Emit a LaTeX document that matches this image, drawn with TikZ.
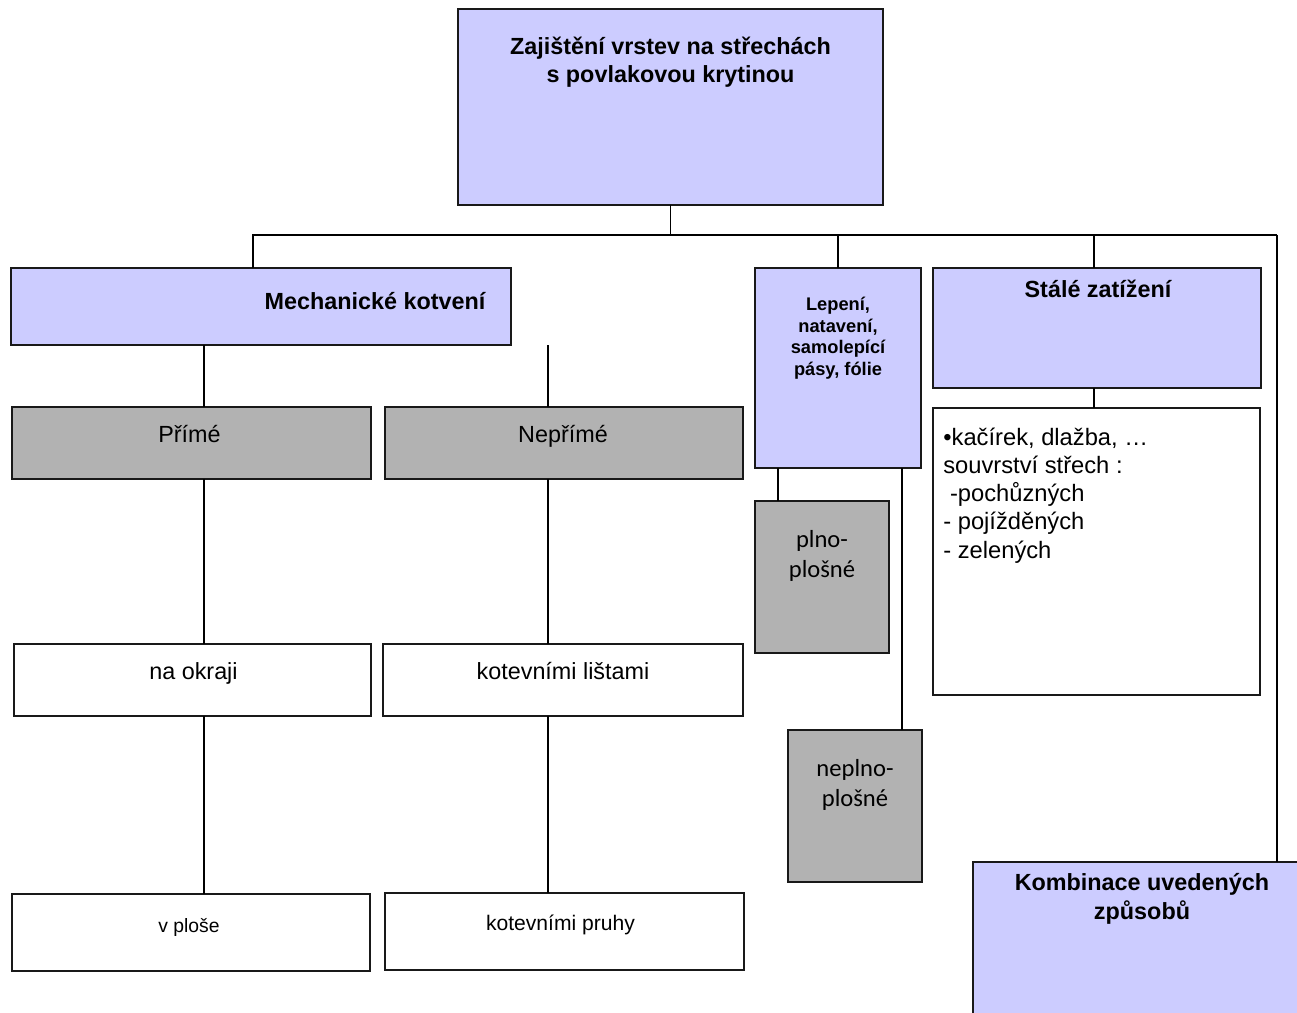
\documentclass[tikz,border=0pt]{standalone}
\usepackage{fontspec}
\setmainfont{Liberation Sans}
\newfontfamily\calibrifont{Carlito}
\usepackage{tikz}
\usetikzlibrary{calc,positioning}
\definecolor{lavend}{HTML}{CCCCFF}
\definecolor{greybox}{HTML}{B2B2B2}
\tikzset{
   box/.style 2 args={draw=black!90, line width=0.75pt, inner sep=0pt, outer sep=0pt, anchor=north west,
                      minimum width=#1*0.02cm, minimum height=#2*0.02cm},
   head/.style={font=\bfseries\fontsize{13.3}{16}\selectfont, align=center, inner sep=0pt, anchor=base},
   plain/.style={font=\fontsize{13.3}{16}\selectfont, align=center, inner sep=0pt, anchor=base},
   conn/.style={draw=black, line width=0.6pt}
}

\begin{document}
\begin{tikzpicture}[x=0.02cm,y=-0.02cm]
\useasboundingbox (0,0) rectangle (1297,1013);

% boxes
\node[box={425}{196}, fill=lavend] (top) at (458,9) {};
\node[box={500}{77}, fill=lavend] (mech) at (11,268) {};
\node[box={359}{72}, fill=greybox] (prime) at (12,407) {};
\node[box={358}{72}, fill=greybox] (neprime) at (385,407) {};
\node[box={357}{72}, fill=white] (okraj) at (14,644) {};
\node[box={360}{72}, fill=white] (listy) at (383,644) {};
\node[box={358}{77}, fill=white] (plocha) at (12,894) {};
\node[box={359}{77}, fill=white] (pruhy) at (385,893) {};
\node[box={166}{200}, fill=lavend] (lep) at (755,268) {};
\node[box={134}{152}, fill=greybox] (plno) at (755,501) {};
\node[box={134}{152}, fill=greybox] (neplno) at (788,730) {};
\node[box={328}{120}, fill=lavend] (stale) at (933,268) {};
\node[box={327}{287}, fill=white] (seznam) at (933,408) {};
\begin{scope}
\clip (0,0) rectangle (1297,1013);
\node[box={350}{200}, fill=lavend] (komb) at (973,862) {};
\end{scope}

% texts (base = last line)
\node[head] (toptxt) at ($(top.north)+(0,74)$) {Zajištění vrstev na střechách\\s povlakovou krytinou};
\node[head] (mechtxt) at ($(mech.north)+(114,42)$) {Mechanické kotvení};
\node[plain] (primetxt) at ($(prime.north)+(-2,35)$) {Přímé};
\node[plain] (neprimetxt) at ($(neprime.north)+(-1,35)$) {Nepřímé};
\node[plain] (okrajtxt) at ($(okraj.north)+(1,35)$) {na okraji};
\node[plain] (listytxt) at ($(listy.north)+(0,35)$) {kotevními lištami};
\node[plain, font=\fontsize{11}{13}\selectfont] (plochatxt) at ($(plocha.north)+(-2,38)$) {v ploše};
\node[plain, font=\fontsize{12}{14}\selectfont] (pruhytxt) at ($(pruhy.north)+(-4,37)$) {kotevními pruhy};
\node[head, font=\bfseries\fontsize{10.4}{12.2}\selectfont] (leptxt) at ($(lep.north)+(0,107)$) {Lepení,\\natavení,\\samolepící\\pásy, fólie};
\node[plain, font=\calibrifont\fontsize{14}{17}\selectfont] (plnotxt) at ($(plno.north)+(0,76)$) {plno-\\plošné};
\node[plain, font=\calibrifont\fontsize{14}{17}\selectfont] (neplnotxt) at ($(neplno.north)+(0,76)$) {neplno-\\plošné};
\node[head] (staletxt) at ($(stale.north)+(1,29)$) {Stálé zatížení};
\node[plain, align=left, anchor=base west, font=\fontsize{13.5}{16}\selectfont] (seznamtxt) at ($(seznam.north west)+(10,150)$)
  {•kačírek, dlažba, …\\souvrství střech :\\\hspace*{0.28em}-pochůzných\\- pojížděných\\- zelených};
\node[head] (kombtxt) at ($(komb.north)+(-6,57)$) {Kombinace uvedených\\způsobů};

% connectors
\coordinate (busL) at (253,235);
\coordinate (busR) at (1277,235);
\coordinate (colA) at (204,0);
\coordinate (colB) at (548,0);
\coordinate (colC) at (778,0);
\coordinate (colD) at (902,0);
\draw[conn] (top.south) -- (top.south |- busL);
\draw[conn] (busL |- mech.north) -- (busL) -- (busR);
\draw[conn, line width=1.1pt] (busR) -- (busR |- komb.north);
\draw[conn] (lep.north) -- (lep.north |- busL);
\draw[conn] ([xshift=-3*0.02cm]stale.north) -- ([xshift=-3*0.02cm]stale.north |- busL);
\draw[conn] (colA |- mech.south) -- (colA |- prime.north);
\draw[conn] (colB |- mech.south) -- (colB |- neprime.north);
\draw[conn] (colA |- prime.south) -- (colA |- okraj.north);
\draw[conn] (colB |- neprime.south) -- (colB |- listy.north);
\draw[conn] (colA |- okraj.south) -- (colA |- plocha.north);
\draw[conn] (colB |- listy.south) -- (colB |- pruhy.north);
\draw[conn] (colC |- lep.south) -- (colC |- plno.north);
\draw[conn] (colD |- lep.south) -- (colD |- neplno.north);
\draw[conn] ([xshift=-3*0.02cm]stale.south) -- ([xshift=-3*0.02cm]stale.south |- seznam.north);
\end{tikzpicture}
\end{document}
